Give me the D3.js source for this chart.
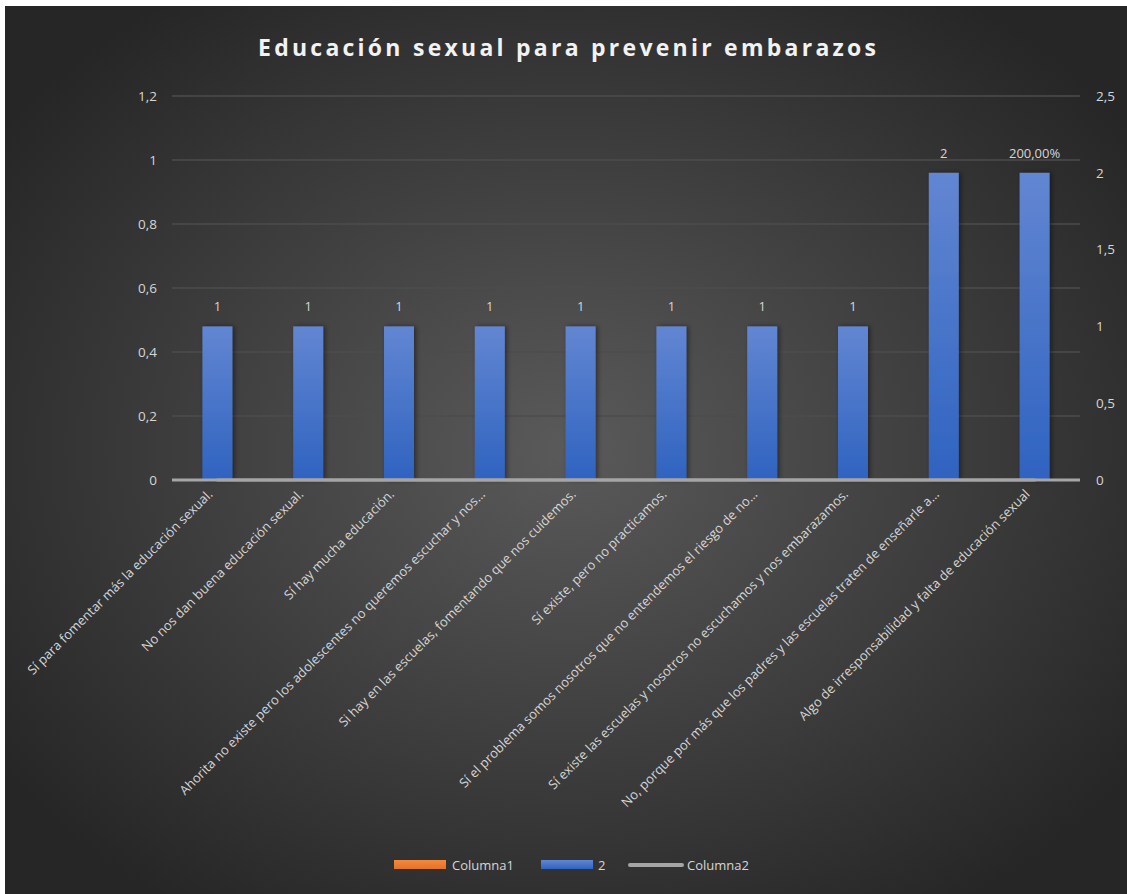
<!DOCTYPE html>
<html>
<head>
<meta charset="utf-8">
<script src="https://cdn.jsdelivr.net/npm/d3@7"></script>
<style>
  html, body { margin: 0; padding: 0; background: #ffffff; }
  svg { display: block; }
  text { font-family: "Open Sans", Lato, sans-serif; }
</style>
</head>
<body>
<svg id="chart" width="1127" height="894"></svg>
<script>
// Survey answers shown along the category axis
const categories = [
  "Sí para fomentar más la educación sexual.",
  "No nos dan buena educación sexual.",
  "Sí hay mucha educación.",
  "Ahorita no existe pero los adolescentes no queremos escuchar y nos…",
  "Si hay en las escuelas, fomentando que nos cuidemos.",
  "Sí existe, pero no practicamos.",
  "Sí el problema somos nosotros que no entendemos el riesgo de no…",
  "Sí existe las escuelas y nosotros no escuchamos y nos embarazamos.",
  "No, porque por más que los padres y las escuelas traten de enseñarle a…",
  "Algo de irresponsabilidad y falta de educación sexual"
];
// Series "2" (plotted on the secondary axis)
const serie2 = [1, 1, 1, 1, 1, 1, 1, 1, 2, 2];
const serie2Labels = ["1", "1", "1", "1", "1", "1", "1", "1", "2", "200,00%"];
// Columna1 (bars) and Columna2 (line) on the primary axis
const columna1 = [0, 0, 0, 0, 0, 0, 0, 0, 0, 0];
const columna2 = [0, 0, 0, 0, 0, 0, 0, 0, 0, 0];
// Axis ticks
const leftTicks = [0, 0.2, 0.4, 0.6, 0.8, 1, 1.2];
const rightTicks = [0, 0.5, 1, 1.5, 2, 2.5];

const title = "Educación sexual para prevenir embarazos";
const legendNames = ["Columna1", "2", "Columna2"];

const svg = d3.select("#chart");
const W = 1127, H = 894;
const plot = { left: 172, right: 1080, top: 96, bottom: 480 };
const labelColor = "#d6d6d6";

const defs = svg.append("defs");
const bg = defs.append("radialGradient").attr("id", "bgGrad")
  .attr("cx", "50%").attr("cy", "50%").attr("r", "62%");
bg.append("stop").attr("offset", "0%").attr("stop-color", "#5a5a5a");
bg.append("stop").attr("offset", "100%").attr("stop-color", "#262626");

const blue = defs.append("linearGradient").attr("id", "blueGrad")
  .attr("x1", 0).attr("y1", 0).attr("x2", 0).attr("y2", 1);
blue.append("stop").attr("offset", "0%").attr("stop-color", "#6286d2");
blue.append("stop").attr("offset", "100%").attr("stop-color", "#2f63c0");

const orange = defs.append("linearGradient").attr("id", "orangeGrad")
  .attr("x1", 0).attr("y1", 0).attr("x2", 0).attr("y2", 1);
orange.append("stop").attr("offset", "0%").attr("stop-color", "#f3893d");
orange.append("stop").attr("offset", "100%").attr("stop-color", "#e4712a");

const shadow = defs.append("filter").attr("id", "barShadow")
  .attr("x", "-30%").attr("y", "-10%").attr("width", "160%").attr("height", "120%");
shadow.append("feDropShadow").attr("dx", 2).attr("dy", 0).attr("stdDeviation", 2.5)
  .attr("flood-color", "#000").attr("flood-opacity", 0.45);

// Chart background
svg.append("rect").attr("x", 5).attr("y", 6).attr("width", W - 5).attr("height", H - 6)
  .attr("fill", "url(#bgGrad)");

// Scales
const x = d3.scaleBand().domain(categories).range([plot.left, plot.right])
  .paddingInner(0.67).paddingOuter(0.335);
const yL = d3.scaleLinear().domain([0, 1.2]).range([plot.bottom, plot.top]);
const yR = d3.scaleLinear().domain([0, 2.5]).range([plot.bottom, plot.top]);
const fmt = d => String(d).replace(".", ",");

// Gridlines (primary axis)
svg.append("g").selectAll("line").data(leftTicks.filter(d => d > 0)).join("line")
  .attr("x1", plot.left).attr("x2", plot.right)
  .attr("y1", d => yL(d)).attr("y2", d => yL(d))
  .attr("stroke", "#4d4d4d").attr("stroke-width", 1.5);

// Left axis
const axL = svg.append("g").attr("transform", `translate(${plot.left},0)`)
  .call(d3.axisLeft(yL).tickValues(leftTicks).tickFormat(fmt).tickSize(0).tickPadding(15));
axL.select(".domain").remove();
axL.selectAll("text").attr("fill", labelColor).attr("font-size", 13.5);

// Right axis
const axR = svg.append("g").attr("transform", `translate(${plot.right},0)`)
  .call(d3.axisRight(yR).tickValues(rightTicks).tickFormat(fmt).tickSize(0).tickPadding(16));
axR.select(".domain").remove();
axR.selectAll("text").attr("fill", labelColor).attr("font-size", 13.5);

// Columna1 bars (primary axis)
svg.append("g").selectAll("rect").data(columna1).join("rect")
  .attr("x", (d, i) => x(categories[i]))
  .attr("width", x.bandwidth())
  .attr("y", d => yL(d)).attr("height", d => yL(0) - yL(d))
  .attr("fill", "url(#orangeGrad)");

// Series "2" bars (secondary axis)
svg.append("g").selectAll("rect").data(serie2).join("rect")
  .attr("x", (d, i) => x(categories[i]))
  .attr("width", x.bandwidth())
  .attr("y", d => yR(d)).attr("height", d => yR(0) - yR(d))
  .attr("fill", "url(#blueGrad)")
  .attr("filter", "url(#barShadow)");

// Data labels
svg.append("g").selectAll("text").data(serie2).join("text")
  .attr("x", (d, i) => x(categories[i]) + x.bandwidth() / 2)
  .attr("y", d => yR(d) - 15)
  .attr("text-anchor", "middle")
  .attr("fill", labelColor).attr("font-size", 13)
  .text((d, i) => serie2Labels[i]);

// Category axis line
svg.append("line").attr("x1", plot.left).attr("x2", plot.right)
  .attr("y1", yL(0)).attr("y2", yL(0))
  .attr("stroke", "#a6a6a6").attr("stroke-width", 3);

// Columna2 line (primary axis)
const line = d3.line()
  .x((d, i) => x(categories[i]) + x.bandwidth() / 2)
  .y(d => yL(d));
svg.append("path").datum(columna2).attr("d", line)
  .attr("fill", "none").attr("stroke", "#a5a5a5").attr("stroke-width", 3)
  .attr("stroke-linecap", "round");

// Category labels, rotated
svg.append("g").selectAll("text").data(categories).join("text")
  .attr("transform", d => `translate(${x(d) + x.bandwidth() / 2 - 4},${plot.bottom + 15}) rotate(-45)`)
  .attr("text-anchor", "end")
  .attr("fill", labelColor).attr("font-size", 13)
  .text(d => d);

// Title
svg.append("text").attr("x", 567).attr("y", 56)
  .attr("text-anchor", "middle")
  .attr("fill", "#f2f2f2").attr("font-size", 23).attr("font-weight", "bold")
  .attr("textLength", 618).attr("lengthAdjust", "spacing")
  .text(title);

// Legend
const lg = svg.append("g");
lg.append("rect").attr("x", 394).attr("y", 860).attr("width", 52).attr("height", 9).attr("fill", "url(#orangeGrad)");
lg.append("text").attr("x", 452).attr("y", 869.5).attr("fill", labelColor).attr("font-size", 13).text(legendNames[0]);
lg.append("rect").attr("x", 541).attr("y", 860).attr("width", 52).attr("height", 9).attr("fill", "url(#blueGrad)");
lg.append("text").attr("x", 598).attr("y", 869.5).attr("fill", labelColor).attr("font-size", 13).text(legendNames[1]);
lg.append("line").attr("x1", 630).attr("x2", 682).attr("y1", 865).attr("y2", 865)
  .attr("stroke", "#a5a5a5").attr("stroke-width", 4).attr("stroke-linecap", "round");
lg.append("text").attr("x", 687).attr("y", 869.5).attr("fill", labelColor).attr("font-size", 13).text(legendNames[2]);
</script>
</body>
</html>
